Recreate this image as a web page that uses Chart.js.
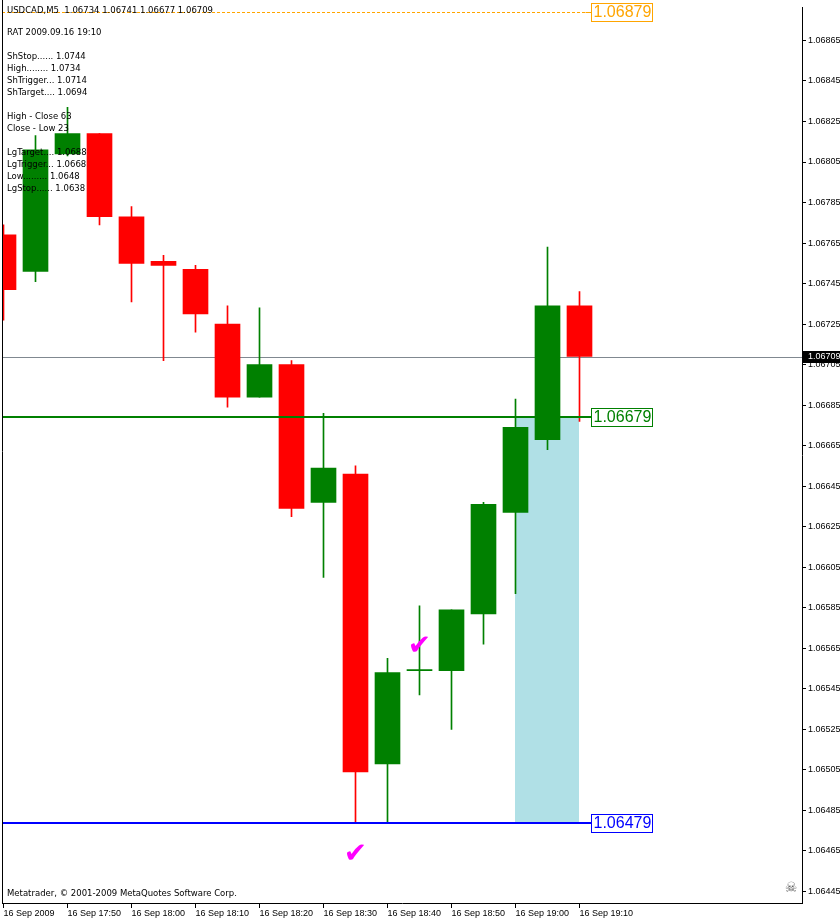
<!DOCTYPE html>
<html>
<head>
<meta charset="utf-8">
<title>USDCAD,M5</title>
<script src="https://cdn.jsdelivr.net/npm/chart.js@4.4.1/dist/chart.umd.min.js"></script>
<style>
  html, body { margin: 0; padding: 0; background: #fff; }
  #wrap { position: relative; width: 840px; height: 920px; }
</style>
</head>
<body>
<div id="wrap"><canvas id="chart" width="840" height="920"></canvas></div>
<script>
// --- Data (M5 bars, 16 Sep 2009 17:40 .. 19:10) ---
const xLabels = ['16 Sep 2009', '16 Sep 17:50', '16 Sep 18:00', '16 Sep 18:10', '16 Sep 18:20',
  '16 Sep 18:30', '16 Sep 18:40', '16 Sep 18:50', '16 Sep 19:00', '16 Sep 19:10'];
const xTickBars = [0, 2, 4, 6, 8, 10, 12, 14, 16, 18];

const opens  = [1.06769, 1.06751, 1.06809, 1.06819, 1.06778, 1.06756, 1.06752, 1.06725, 1.06689, 1.06705,
  1.06637, 1.06651, 1.06508, 1.06554, 1.06554, 1.06582, 1.06632, 1.06668, 1.06734];
const highs  = [1.06774, 1.06818, 1.06832, 1.06819, 1.06783, 1.06759, 1.06754, 1.06734, 1.06733, 1.06707,
  1.06681, 1.06655, 1.06560, 1.06586, 1.06584, 1.06637, 1.06688, 1.06763, 1.06741];
const lows   = [1.06727, 1.06746, 1.06808, 1.06774, 1.06736, 1.06707, 1.06721, 1.06684, 1.06689, 1.06630,
  1.06600, 1.06479, 1.06479, 1.06542, 1.06525, 1.06567, 1.06592, 1.06663, 1.06677];
const closes = [1.06742, 1.06811, 1.06819, 1.06778, 1.06755, 1.06754, 1.06730, 1.06689, 1.06705, 1.06634,
  1.06654, 1.06504, 1.06553, 1.06554, 1.06584, 1.06636, 1.06674, 1.06734, 1.06709];

const yTicks = [1.06445, 1.06465, 1.06485, 1.06505, 1.06525, 1.06545, 1.06565, 1.06585, 1.06605,
  1.06625, 1.06645, 1.06665, 1.06685, 1.06705, 1.06725, 1.06745, 1.06765, 1.06785, 1.06805,
  1.06825, 1.06845, 1.06865];

const levelPrices = [1.06879, 1.06679, 1.06479];
const levelColors = ['#ffa500', '#008000', '#0000ff'];
const bidPrice = 1.06709;

const zoneBars = [16, 18];
const zonePrices = [1.06679, 1.06479];

const checkBars = [13, 11];
const checkPrices = [1.06566, 1.06463];

const headerText = 'USDCAD,M5  1.06734 1.06741 1.06677 1.06709';
const infoLines = ['RAT 2009.09.16 19:10', '', 'ShStop...... 1.0744', 'High........ 1.0734',
  'ShTrigger... 1.0714', 'ShTarget.... 1.0694', '', 'High - Close 63', 'Close - Low 23', '',
  'LgTarget.... 1.0688', 'LgTrigger... 1.0668', 'Low......... 1.0648', 'LgStop...... 1.0638'];
const copyrightText = 'Metatrader, \u00a9 2001-2009 MetaQuotes Software Corp.';

// --- Colours ---
const BULL = '#008000';
const BEAR = '#ff0000';
const candleColors = opens.map((o, i) => (closes[i] >= o ? BULL : BEAR));

// --- Overlay drawing (zone, levels, labels) ---
const overlay = {
  id: 'overlay',
  beforeDatasetsDraw(chart) {
    const { ctx, chartArea, scales: { x, y } } = chart;
    ctx.save();
    // target zone
    const zx1 = x.getPixelForValue(zoneBars[0]) - 0.5;
    const zx2 = x.getPixelForValue(zoneBars[1]) - 0.5;
    const zy1 = Math.round(y.getPixelForValue(zonePrices[0]));
    const zy2 = Math.round(y.getPixelForValue(zonePrices[1]));
    ctx.fillStyle = '#b0e0e6';
    ctx.fillRect(zx1, zy1, zx2 - zx1, zy2 - zy1);
    // bid line
    const by = Math.round(y.getPixelForValue(bidPrice)) + 0.5;
    ctx.strokeStyle = '#808890';
    ctx.lineWidth = 1;
    ctx.beginPath();
    ctx.moveTo(chartArea.left, by);
    ctx.lineTo(chartArea.right, by);
    ctx.stroke();
    ctx.restore();
  },
  afterDatasetsDraw(chart) {
    const { ctx, chartArea, scales: { x, y } } = chart;
    const last = opens.length - 1;
    const boxLeft = Math.round(x.getPixelForValue(last + 0.35)) + 0.5;
    ctx.save();
    levelPrices.forEach((p, i) => {
      const py = Math.round(y.getPixelForValue(p));
      ctx.strokeStyle = levelColors[i];
      if (i === 0) {
        ctx.lineWidth = 1;
        ctx.setLineDash([3, 2]);
        ctx.beginPath();
        ctx.moveTo(chartArea.left, py + 0.5);
        ctx.lineTo(boxLeft - 6, py + 0.5);
        ctx.stroke();
        ctx.setLineDash([]);
        ctx.beginPath();
        ctx.moveTo(boxLeft - 6, py + 0.5);
        ctx.lineTo(boxLeft, py + 0.5);
        ctx.stroke();
      } else {
        ctx.lineWidth = 2;
        ctx.beginPath();
        ctx.moveTo(chartArea.left, py);
        ctx.lineTo(boxLeft, py);
        ctx.stroke();
      }
      // price label box
      ctx.lineWidth = 1;
      ctx.fillStyle = '#fff';
      ctx.fillRect(boxLeft, py - 9, 61, 18);
      ctx.strokeRect(boxLeft, py - 9 + 0.5, 61, 18);
      ctx.fillStyle = levelColors[i];
      ctx.font = '16px "Liberation Sans"';
      ctx.textBaseline = 'middle';
      ctx.textAlign = 'left';
      ctx.fillText(p.toFixed(5), boxLeft + 2, py + 1);
    });

    // check marks
    ctx.fillStyle = '#ff00ff';
    ctx.font = 'bold 28px "DejaVu Sans"';
    ctx.textAlign = 'center';
    ctx.textBaseline = 'middle';
    checkBars.forEach((b, i) => {
      ctx.fillText('\u2714', x.getPixelForValue(b), y.getPixelForValue(checkPrices[i]));
    });

    // info text
    ctx.fillStyle = '#000';
    ctx.textAlign = 'left';
    ctx.font = '8.5px "DejaVu Sans"';
    ctx.fillText(headerText, chartArea.left + 5, 11);
    infoLines.forEach((t, i) => {
      if (t) ctx.fillText(t, chartArea.left + 5, 33 + i * 12);
    });
    ctx.fillText(copyrightText, chartArea.left + 5, chartArea.bottom - 9);

    // skull
    ctx.fillStyle = '#606060';
    ctx.font = '14px "DejaVu Sans"';
    ctx.textAlign = 'center';
    ctx.fillText('\u2620', chartArea.right - 11, chartArea.bottom - 15);
    ctx.restore();
  },
  afterDraw(chart) {
    const { ctx, chartArea, scales: { y } } = chart;
    ctx.save();
    // left border
    ctx.strokeStyle = '#000';
    ctx.lineWidth = 1;
    ctx.beginPath();
    ctx.moveTo(chartArea.left + 0.5, 0);
    ctx.lineTo(chartArea.left + 0.5, chartArea.bottom);
    ctx.stroke();
    // current price box on axis
    const by = Math.round(y.getPixelForValue(bidPrice));
    ctx.fillStyle = '#000';
    ctx.fillRect(chartArea.right + 1, by - 6, 40, 12);
    ctx.fillStyle = '#fff';
    ctx.font = '9px "Liberation Sans"';
    ctx.textAlign = 'left';
    ctx.textBaseline = 'middle';
    ctx.fillText(bidPrice.toFixed(5), chartArea.right + 6, by);
    ctx.restore();
  },
};

// --- Chart ---
Chart.defaults.font.family = '"Liberation Sans"';
Chart.defaults.color = '#000';

const idx = opens.map((_, i) => i);

new Chart(document.getElementById('chart'), {
  type: 'bar',
  data: {
    datasets: [
      {
        label: 'wicks',
        data: idx.map((i) => ({ x: i, y: [lows[i], highs[i]] })),
        backgroundColor: candleColors,
        barThickness: 1,
        grouped: false,
        minBarLength: 1,
      },
      {
        label: 'bodies',
        data: idx.map((i) => ({ x: i, y: [opens[i], closes[i]] })),
        backgroundColor: candleColors,
        barThickness: 25,
        grouped: false,
        minBarLength: 1,
      },
    ],
  },
  options: {
    responsive: false,
    animation: false,
    devicePixelRatio: 1,
    layout: { padding: { left: 2, top: 0, right: 0, bottom: 0 } },
    plugins: { legend: { display: false }, tooltip: { enabled: false } },
    scales: {
      x: {
        type: 'linear',
        offset: false,
        min: -0.046875,
        max: 24.953125,
        afterBuildTicks: (scale) => { scale.ticks = xTickBars.map((v) => ({ value: v })); },
        afterFit: (scale) => { scale.height = 17; },
        ticks: {
          autoSkip: false,
          maxRotation: 0,
          align: 'start',
          padding: 0,
          font: { size: 9 },
          callback: (v, i) => xLabels[i],
        },
        grid: { offset: false, drawOnChartArea: false, drawTicks: true, tickLength: 5, color: '#000' },
        border: { display: true, color: '#000', width: 1 },
      },
      y: {
        type: 'linear',
        position: 'right',
        min: 1.064393,
        max: 1.068813,
        afterBuildTicks: (scale) => { scale.ticks = yTicks.map((v) => ({ value: v })); },
        afterFit: (scale) => { scale.width = 38; },
        ticks: {
          autoSkip: false,
          padding: 2,
          font: { size: 9 },
          callback: (v) => Number(v).toFixed(5),
        },
        grid: { drawOnChartArea: false, drawTicks: true, tickLength: 4, color: '#000' },
        border: { display: true, color: '#000', width: 1 },
      },
    },
  },
  plugins: [overlay],
});
</script>
</body>
</html>
